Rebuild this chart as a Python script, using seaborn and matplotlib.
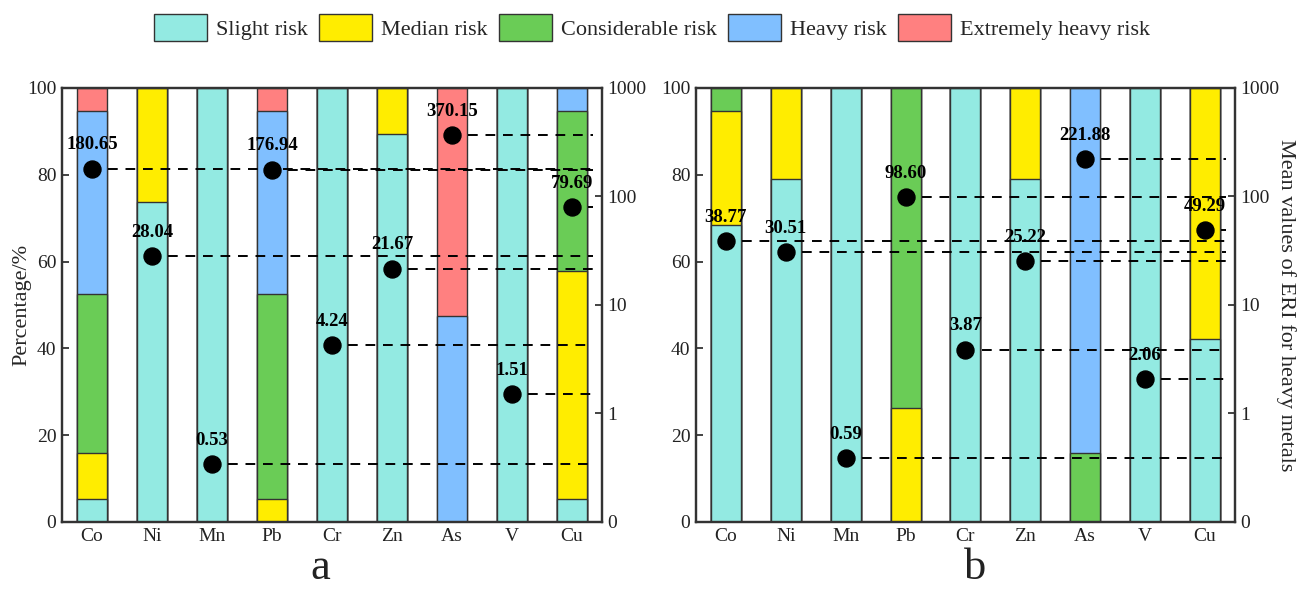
import numpy as np
import pandas as pd
import seaborn as sns
import matplotlib.pyplot as plt
from matplotlib.patches import Patch

metals = ['Co', 'Ni', 'Mn', 'Pb', 'Cr', 'Zn', 'As', 'V', 'Cu']
levels = ['Slight risk', 'Median risk', 'Considerable risk', 'Heavy risk', 'Extremely heavy risk']
colors = ['#93EAE2', '#FFED00', '#6ACC56', '#80BFFF', '#FF8080']

# percentage of samples in each risk level (panel a)
slight_a = [5.26, 73.68, 100, 0, 100, 89.47, 0, 100, 5.26]
median_a = [10.53, 26.32, 0, 5.26, 0, 10.53, 0, 0, 52.63]
consid_a = [36.84, 0, 0, 47.37, 0, 0, 0, 0, 36.84]
heavy_a = [42.11, 0, 0, 42.11, 0, 0, 47.37, 0, 5.26]
extreme_a = [5.26, 0, 0, 5.26, 0, 0, 52.63, 0, 0]
eri_a = [180.65, 28.04, 0.53, 176.94, 4.24, 21.67, 370.15, 1.51, 79.69]

# panel b
slight_b = [68.42, 78.95, 100, 0, 100, 78.95, 0, 100, 42.11]
median_b = [26.32, 21.05, 0, 26.32, 0, 21.05, 0, 0, 57.89]
consid_b = [5.26, 0, 0, 73.68, 0, 0, 15.79, 0, 0]
heavy_b = [0, 0, 0, 0, 0, 0, 84.21, 0, 0]
extreme_b = [0, 0, 0, 0, 0, 0, 0, 0, 0]
eri_b = [38.77, 30.51, 0.59, 98.60, 3.87, 25.22, 221.88, 2.06, 49.29]

sns.set_style('white')
plt.rcParams['font.family'] = ['Liberation Serif', 'DejaVu Serif']

fig = plt.figure(figsize=(13.04, 5.89), dpi=100)
ax_a = fig.add_axes([0.0475, 0.1138, 0.4142, 0.7368])
ax_b = fig.add_axes([0.5337, 0.1138, 0.4133, 0.7368])

edge = '#333333'


def draw_panel(ax, parts, eri, label, label_x):
    df = pd.DataFrame({'metal': metals})
    cum = np.cumsum(np.array(parts), axis=0)
    # draw cumulative bars from the top level down so lower levels overlay
    for k in range(len(levels) - 1, -1, -1):
        df['h'] = cum[k]
        sns.barplot(data=df, x='metal', y='h', color=colors[k], width=0.5,
                    edgecolor=edge, linewidth=1.0, saturation=1, ax=ax)
    ax.set_ylim(0, 100)
    ax.set_xlim(-0.5, len(metals) - 0.5)
    ax.set_yticks([0, 20, 40, 60, 80, 100])
    ax.set_xlabel('')
    ax.set_ylabel('')
    ax.tick_params(axis='both', direction='in', length=5, width=1.2,
                   labelsize=14, colors='#222222', pad=4)
    for s in ax.spines.values():
        s.set_linewidth(1.6)
        s.set_color('#333333')

    ax2 = ax.twinx()
    ax2.set_yscale('symlog', linthresh=1, linscale=0.9)
    ax2.set_ylim(0, 1000)
    ax2.set_yticks([0, 1, 10, 100, 1000])
    ax2.set_yticklabels(['0', '1', '10', '100', '1000'])
    ax2.minorticks_off()
    ax2.tick_params(axis='y', direction='in', length=5, width=1.2,
                    labelsize=14, colors='#222222', pad=4)
    for s in ax2.spines.values():
        s.set_linewidth(1.6)
        s.set_color('#333333')
    x = np.arange(len(metals))
    for i, v in enumerate(eri):
        ax2.plot([x[i] + 0.27, len(metals) - 0.65], [v, v], color='black',
                 lw=1.4, linestyle=(0, (5, 4)), zorder=3)
    sns.scatterplot(x=x, y=eri, color='black', s=150, edgecolor='black',
                    zorder=5, ax=ax2, legend=False)
    for i, v in enumerate(eri):
        ax2.annotate(f'{v:.2f}', (x[i], v), xytext=(0, 11),
                     textcoords='offset points', ha='center', va='bottom',
                     fontsize=13.5, fontweight='bold', color='black')
    fig.text(label_x, 0.002, label, ha='center', va='bottom',
             fontsize=32, color='#222222')
    return ax2


ax2a = draw_panel(ax_a, [slight_a, median_a, consid_a, heavy_a, extreme_a], eri_a, 'a', 0.2454)
ax2b = draw_panel(ax_b, [slight_b, median_b, consid_b, heavy_b, extreme_b], eri_b, 'b', 0.7477)

ax_a.set_ylabel('Percentage/%', fontsize=16, labelpad=-3)
ax2b.set_ylabel('Mean values of ERI for heavy metals', fontsize=16,
                rotation=270, labelpad=12)

handles = [Patch(facecolor=c, edgecolor=edge, linewidth=1.0) for c in colors]
fig.legend(handles, levels, loc='upper center', bbox_to_anchor=(0.5, 1.01),
           ncol=5, frameon=False, fontsize=16, handlelength=2.4,
           handleheight=1.5, columnspacing=0.5, handletextpad=0.4)

fig.savefig('out.png', dpi=100)
